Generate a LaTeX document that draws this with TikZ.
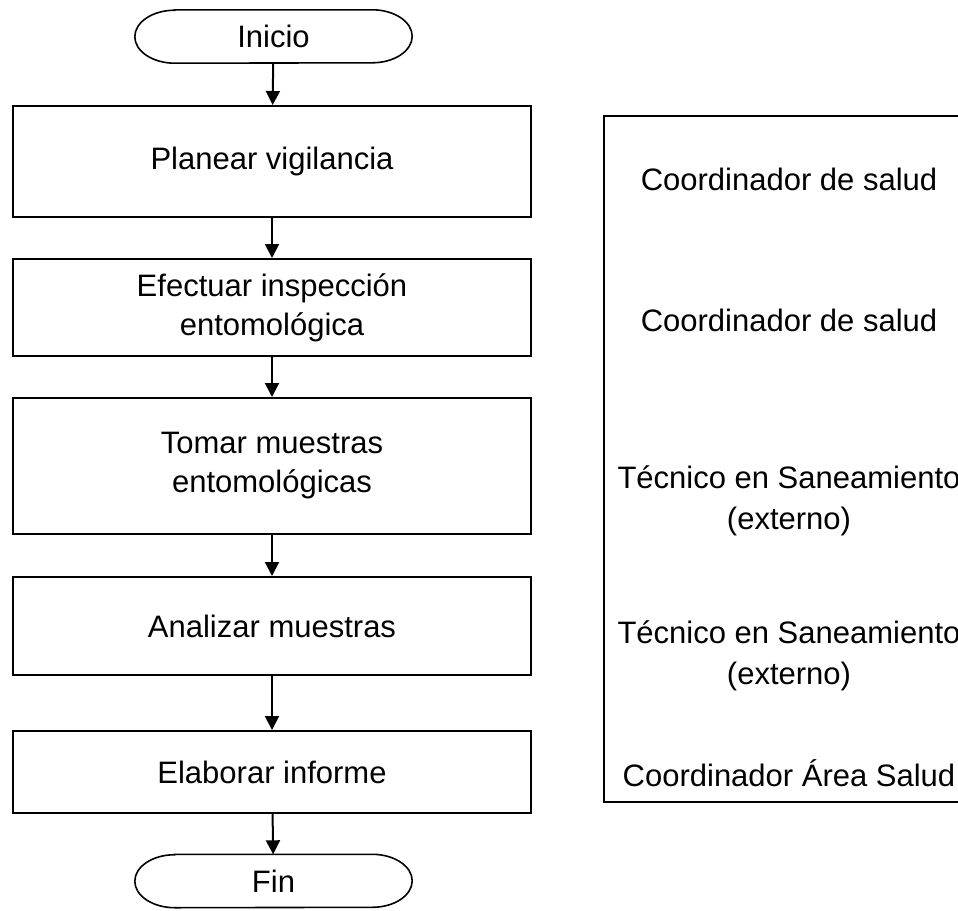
\documentclass[tikz,border=0pt]{standalone}
\usepackage{fontspec}
\setmainfont{Liberation Sans}
\usetikzlibrary{arrows.meta}
\begin{document}
\begin{tikzpicture}[x=1pt,y=-1pt,
  every node/.style={font=\fontsize{31}{39}\selectfont, align=center, inner sep=0pt},
  stepbox/.style={draw, line width=2pt, minimum width=518pt},
  termnode/.style={minimum width=277pt, minimum height=53pt},
  termline/.style={line width=1.6pt},
  flow/.style={line width=2pt, -{Triangle[width=14pt,length=14pt]}},
  rolebox/.style={draw, line width=2pt, minimum width=371pt, minimum height=686pt},
  roletext/.style={font=\fontsize{31}{41}\selectfont}
]
\useasboundingbox (0,0) rectangle (958,910);
\fill[white] (0,0) rectangle (958,910);

% terminals
\node[termnode] (ini) at (273.5,36.5) {Inicio};
\node[termnode] (fin) at (273.5,881) {Fin};
\foreach \t in {ini,fin}{
  \draw[termline] ([xshift=40pt]\t.north west) -- ([xshift=-40pt]\t.north east)
    arc[start angle=90, end angle=-90, x radius=40pt, y radius=26.5pt]
    -- ([xshift=40pt]\t.south west)
    arc[start angle=270, end angle=90, x radius=40pt, y radius=26.5pt] -- cycle;
}

% process boxes
\node[stepbox, minimum height=111pt] (b1) at (272,161.5) {Planear vigilancia};
\node[stepbox, minimum height=97pt] (b2) at (272,307.5) {Efectuar inspección\\ entomológica};
\node[stepbox, minimum height=136pt] (b3) at (272,466) {Tomar muestras\\ entomológicas};
\node[stepbox, minimum height=98pt] (b4) at (272,626) {Analizar muestras};
\node[stepbox, minimum height=82pt] (b5) at (272,772) {Elaborar informe};

% connectors
\draw[flow] (ini) -- (b1);
\draw[flow] (b1) -- (b2);
\draw[flow] (b2) -- (b3);
\draw[flow] (b3) -- (b4);
\draw[flow] (b4) -- (b5);
\draw[flow] (b5) -- (fin);

% responsibles box
\node[rolebox] (roles) at (789.5,459) {};
\node[roletext] (r1) at (789,179) {Coordinador de salud};
\node[roletext] (r2) at (789,320) {Coordinador de salud};
\node[roletext] (r3) at (789,501) {Técnico en Saneamiento\\(externo)};
\node[roletext] (r4) at (789,656) {Técnico en Saneamiento\\(externo)};
\node[roletext] (r5) at (789,773) {Coordinador Área Salud};
\end{tikzpicture}
\end{document}
